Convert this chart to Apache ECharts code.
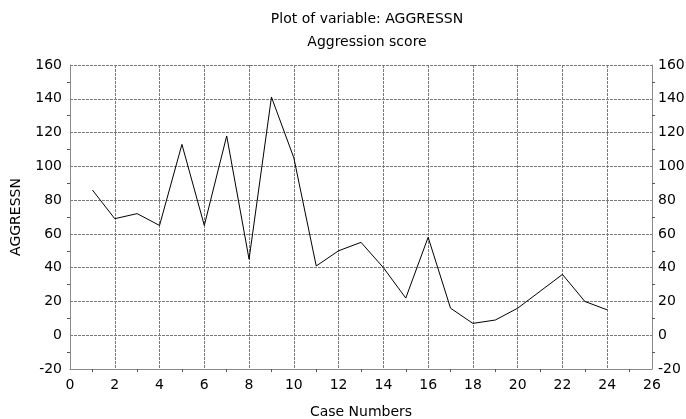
<!DOCTYPE html>
<html>
<head>
<meta charset="utf-8">
<script src="https://cdn.jsdelivr.net/npm/echarts@6/dist/echarts.min.js"></script>
<style>
html,body{margin:0;padding:0;background:#fff;}
#chart{width:686px;height:419px;}
</style>
</head>
<body>
<div id="chart"></div>
<script>
const caseNumbers = [1,2,3,4,5,6,7,8,9,10,11,12,13,14,15,16,17,18,19,20,21,22,23,24];
const aggressn = [86,69,72,65,113,65,118,45,141,105,41,50,55,40,22,58,16,7,9,16,26,36,20,15];
const titleLines = ['Plot of variable: AGGRESSN', 'Aggression score'];
const xName = 'Case Numbers';
const yName = 'AGGRESSN';

const points = caseNumbers.map((c, i) => [c, aggressn[i]]);
const FONT = 'DejaVu Sans, Liberation Sans, Arial, sans-serif';
const gridLine = { show: true, lineStyle: { color: '#7a7a7a', type: [3, 1], width: 1 } };
const axisLine = { show: true, onZero: false, lineStyle: { color: '#8a8a8a', width: 1 } };
const labelStyle = { color: '#000', fontFamily: FONT, fontSize: 14 };

const chart = echarts.init(document.getElementById('chart'), null, { renderer: 'canvas' });
chart.setOption({
  animation: false,
  backgroundColor: '#fff',
  title: {
    text: titleLines.join('\n'),
    left: 362, top: 3, textAlign: 'center',
    textStyle: { fontFamily: FONT, fontSize: 14, fontWeight: 'normal', color: '#000', lineHeight: 23 }
  },
  grid: { left: 70, right: 34, top: 65, bottom: 50, containLabel: false, outerBoundsMode: 'none' },
  xAxis: {
    type: 'value', min: 0, max: 26, interval: 2,
    name: xName, nameLocation: 'middle', nameGap: 36,
    nameTextStyle: { fontFamily: FONT, fontSize: 14, color: '#000' },
    axisLine: axisLine,
    axisTick: { show: false },
    minorTick: { show: true, splitNumber: 2, length: 3, lineStyle: { color: '#555' } },
    axisLabel: Object.assign({ margin: 9 }, labelStyle),
    splitLine: gridLine
  },
  yAxis: [{
    type: 'value', min: -20, max: 160, interval: 20, position: 'left',
    name: yName, nameLocation: 'middle', nameGap: 47, nameRotate: 90,
    nameTextStyle: { fontFamily: FONT, fontSize: 14, color: '#000' },
    axisLine: axisLine,
    axisTick: { show: false },
    minorTick: { show: true, splitNumber: 2, length: 3, lineStyle: { color: '#555' } },
    axisLabel: Object.assign({ margin: 8 }, labelStyle),
    splitLine: gridLine
  }, {
    type: 'value', min: -20, max: 160, interval: 20, position: 'right',
    axisLine: axisLine,
    axisTick: { show: false },
    minorTick: { show: true, splitNumber: 2, length: 3, lineStyle: { color: '#555' } },
    axisLabel: Object.assign({ margin: 6 }, labelStyle),
    splitLine: { show: false }
  }],
  series: [{
    type: 'line',
    data: points,
    yAxisIndex: 0,
    symbol: 'none',
    lineStyle: { color: '#000', width: 1 }
  }]
});
</script>
</body>
</html>
